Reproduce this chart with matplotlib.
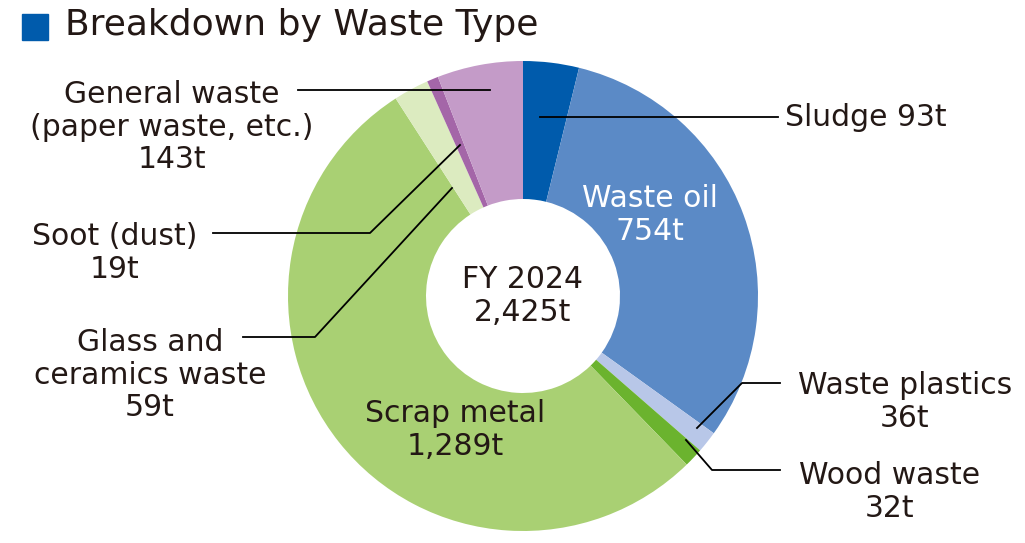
import matplotlib
matplotlib.use("Agg")
import matplotlib.pyplot as plt
import matplotlib.patches as mpatches

# waste data, clockwise from 12 o'clock
types = ["Sludge", "Waste oil", "Waste plastics", "Wood waste", "Scrap metal",
         "Glass and ceramics waste", "Soot (dust)", "General waste"]
tonnes = [93, 754, 36, 32, 1289, 59, 19, 143]
colors = ["#005bac", "#5b8ac6", "#b8c7e8", "#6bb32e", "#a9d073",
          "#dcebc0", "#a466a8", "#c49bc8"]

W, H = 1025, 543
fig = plt.figure(figsize=(W / 100, H / 100), dpi=100)
ax = fig.add_axes([0, 0, 1, 1])

def Y(y):
    return H - y

cx, cy, R = 523, 296, 235
ax.pie(tonnes, colors=colors, startangle=90, counterclock=False,
       center=(cx, Y(cy)), radius=R, frame=True,
       wedgeprops=dict(width=R - 97, edgecolor="none"))
ax.set_xlim(0, W)
ax.set_ylim(0, H)
ax.set_aspect("equal")
ax.axis("off")

fs = 21.5
ls = 1.15
tc = "#231815"
ax.text(cx, Y(cy), f"FY 2024\n{sum(tonnes):,}t", ha="center", va="center",
        fontsize=fs, color=tc, linespacing=ls)
ax.text(650, Y(215), f"Waste oil\n{tonnes[1]}t", ha="center", va="center",
        fontsize=fs, color="white", linespacing=ls)
ax.text(455, Y(430), f"Scrap metal\n{tonnes[4]:,}t", ha="center", va="center",
        fontsize=fs, color=tc, linespacing=ls)

def leader(pts):
    xs = [p[0] for p in pts]
    ys = [Y(p[1]) for p in pts]
    ax.plot(xs, ys, color="black", lw=1.3)

leader([(540, 117), (778, 117)])
ax.text(785, Y(117), f"Sludge {tonnes[0]}t", ha="left", va="center", fontsize=fs, color=tc)

leader([(697, 428), (742, 383), (780, 383)])
ax.text(905, Y(402), f"Waste plastics\n{tonnes[2]}t", ha="center", va="center",
        fontsize=fs, color=tc, linespacing=ls)

leader([(686, 440), (712, 470), (780, 470)])
ax.text(890, Y(492), f"Wood waste\n{tonnes[3]}t", ha="center", va="center",
        fontsize=fs, color=tc, linespacing=ls)

leader([(298, 90), (490, 90)])
ax.text(172, Y(127), f"General waste\n(paper waste, etc.)\n{tonnes[7]}t", ha="center",
        va="center", fontsize=fs, color=tc, linespacing=ls)

leader([(213, 233), (370, 233), (460, 145)])
ax.text(115, Y(253), f"Soot (dust)\n{tonnes[6]}t", ha="center", va="center",
        fontsize=fs, color=tc, linespacing=ls)

leader([(243, 337), (315, 337), (452, 188)])
ax.text(150, Y(375), f"Glass and\nceramics waste\n{tonnes[5]}t", ha="center", va="center",
        fontsize=fs, color=tc, linespacing=ls)

# title
ax.add_patch(mpatches.Rectangle((22, Y(40)), 26, 26, color="#005bac"))
ax.text(65, Y(25), "Breakdown by Waste Type", ha="left", va="center",
        fontsize=26, color=tc)

fig.savefig("out.png", dpi=100)
